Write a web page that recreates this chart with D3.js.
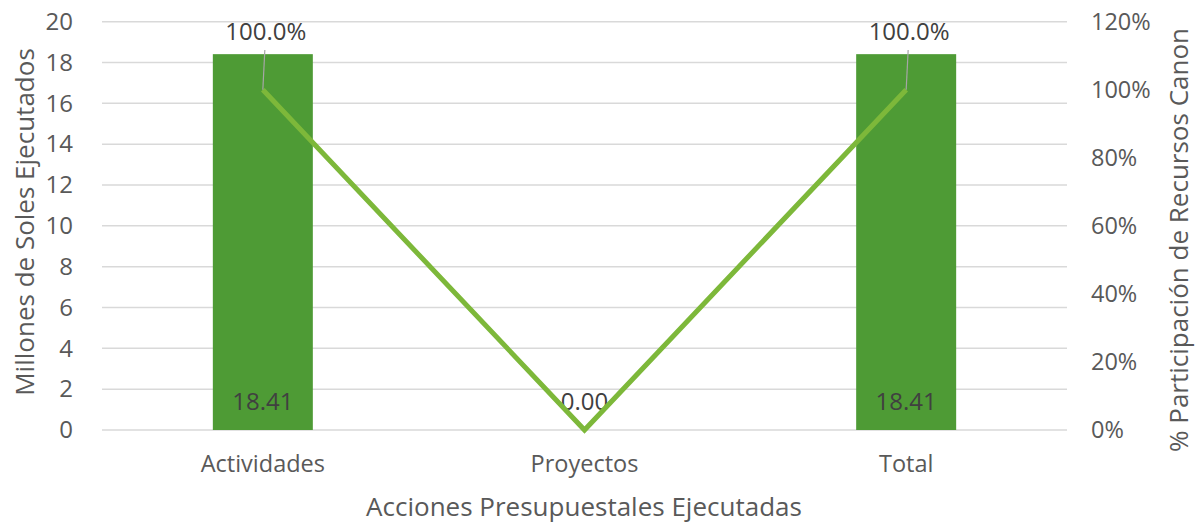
<!DOCTYPE html>
<html><head><meta charset="utf-8">
<script src="https://cdn.jsdelivr.net/npm/d3@7"></script>
<style>body{margin:0;background:#fff}svg{display:block}text{font-family:"Open Sans",sans-serif}</style>
</head><body>
<svg id="c" width="1203" height="527"></svg>
<script>
const categories = ["Actividades","Proyectos","Total"];
const soles = [18.41, 0.00, 18.41];
const participacion = [100.0, 0.0, 100.0];
const leftTicks = [0,2,4,6,8,10,12,14,16,18,20];
const rightTicks = [0,20,40,60,80,100,120];

const svg = d3.select("#c");
const L = 102, R = 1067, T = 21.7, B = 430;
const x = d3.scaleBand().domain(categories).range([L,R]).paddingInner(0).paddingOuter(0);
const yL = d3.scaleLinear().domain([0,20]).range([B,T]);
const yR = d3.scaleLinear().domain([0,120]).range([B,T]);
const txt = "#595959";

// gridlines
svg.append("g").selectAll("line").data(leftTicks).join("line")
  .attr("x1",L).attr("x2",R).attr("y1",d=>yL(d)).attr("y2",d=>yL(d))
  .attr("stroke","#d9d9d9").attr("stroke-width",1.5);

// left axis
const ax = svg.append("g").attr("transform",`translate(${L},0)`)
  .call(d3.axisLeft(yL).tickValues(leftTicks).tickSize(0).tickPadding(29));
ax.select(".domain").remove();
ax.selectAll("text").attr("fill",txt).style("font-size","24px").style("font-family","Open Sans");

const axr = svg.append("g").attr("transform",`translate(${R},0)`)
  .call(d3.axisRight(yR).tickValues(rightTicks).tickFormat(d=>d+"%").tickSize(0).tickPadding(24));
axr.select(".domain").remove();
axr.selectAll("text").attr("fill",txt).style("font-size","23.5px").style("font-family","Open Sans");

const axb = svg.append("g").attr("transform",`translate(0,${B})`)
  .call(d3.axisBottom(x).tickSize(0).tickPadding(25));
axb.select(".domain").remove();
axb.selectAll("text").attr("fill",txt).style("font-size","23.5px").style("font-family","Open Sans");

// bars
const bw = 100;
svg.append("g").selectAll("rect").data(categories).join("rect")
  .attr("x",(d)=>x(d)+x.bandwidth()/2-bw/2).attr("width",bw)
  .attr("y",(d,i)=>yL(soles[i])).attr("height",(d,i)=>B-yL(soles[i]))
  .attr("fill","#4e9b35");

// bar value labels
svg.append("g").selectAll("text").data(categories).join("text")
  .attr("x",d=>x(d)+x.bandwidth()/2).attr("y",402).attr("dy","0.35em")
  .attr("text-anchor","middle").attr("fill","#404040").style("font-size","24px")
  .text((d,i)=>soles[i].toFixed(2));

// line
const cx = d=>x(d)+x.bandwidth()/2;
svg.append("path").datum(categories)
  .attr("d",d3.line().x(d=>cx(d)).y((d,i)=>yR(participacion[i])))
  .attr("fill","none").attr("stroke","#7db83a").attr("stroke-width",5).attr("stroke-linejoin","miter");

// leader lines and % labels
categories.forEach((c,i)=>{
  if(participacion[i]>0){
    svg.append("line").attr("x1",cx(c)+2).attr("y1",50).attr("x2",cx(c)).attr("y2",yR(participacion[i]))
      .attr("stroke","#a6a6a6").attr("stroke-width",1.2);
    svg.append("text").attr("x",cx(c)+3).attr("y",32).attr("dy","0.35em").attr("text-anchor","middle")
      .attr("fill","#404040").style("font-size","24px").text(participacion[i].toFixed(1)+"%");
  }
});

// axis titles
svg.append("text").attr("transform",`translate(34,222) rotate(-90)`).attr("text-anchor","middle")
  .attr("fill",txt).style("font-size","26px").text("Millones de Soles Ejecutados");
svg.append("text").attr("transform",`translate(1188,240) rotate(-90)`).attr("text-anchor","middle")
  .attr("fill",txt).style("font-size","26px").text("% Participación de Recursos Canon");
svg.append("text").attr("x",584).attr("y",507).attr("dy","0.35em").attr("text-anchor","middle")
  .attr("fill",txt).style("font-size","26px").text("Acciones Presupuestales Ejecutadas");
</script>
</body></html>
